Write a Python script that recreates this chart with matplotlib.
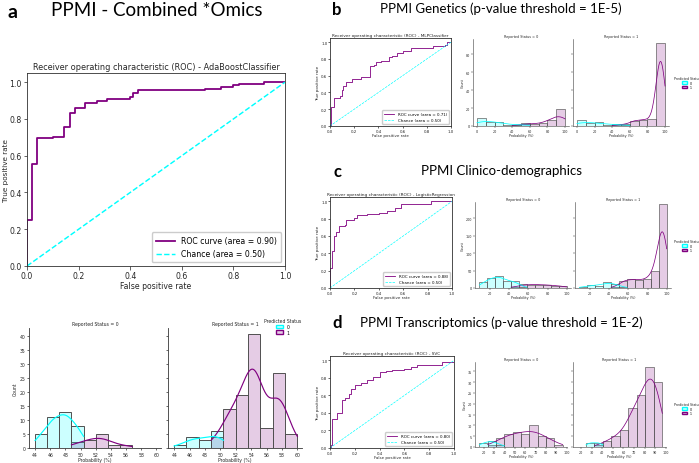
import numpy as np
import matplotlib.pyplot as plt
from matplotlib.patches import Patch
from matplotlib.colors import to_rgba

# ---------------- data ----------------
# ROC curves: (fpr, tpr) corner points, drawn as steps
roc_a_fpr = [0, 0, 0.02, 0.04, 0.10, 0.145, 0.165, 0.185, 0.225, 0.27, 0.29, 0.31, 0.40, 0.41, 0.43, 0.495, 0.69, 0.75, 0.80, 0.82, 0.92, 1.0]
roc_a_tpr = [0, 0.25, 0.555, 0.695, 0.70, 0.755, 0.83, 0.86, 0.885, 0.895, 0.90, 0.91, 0.92, 0.94, 0.955, 0.96, 0.965, 0.975, 0.985, 0.99, 1.0, 1.0]
roc_b_fpr = [0, 0.005, 0.01, 0.03, 0.08, 0.10, 0.11, 0.13, 0.15, 0.18, 0.26, 0.33, 0.36, 0.38, 0.42, 0.47, 0.49, 0.51, 0.55, 0.60, 0.67, 0.85, 0.95, 0.97, 1.0]
roc_b_tpr = [0, 0.02, 0.23, 0.33, 0.36, 0.43, 0.48, 0.52, 0.53, 0.56, 0.59, 0.71, 0.73, 0.76, 0.77, 0.78, 0.82, 0.84, 0.87, 0.90, 0.93, 0.95, 0.97, 1.0, 1.0]
roc_c_fpr = [0, 0.003, 0.02, 0.03, 0.05, 0.07, 0.12, 0.13, 0.20, 0.22, 0.30, 0.40, 0.47, 0.53, 0.58, 0.62, 0.83, 1.0]
roc_c_tpr = [0, 0.23, 0.43, 0.60, 0.65, 0.72, 0.73, 0.78, 0.81, 0.84, 0.85, 0.87, 0.89, 0.92, 0.97, 0.975, 1.0, 1.0]
roc_d_fpr = [0, 0.005, 0.02, 0.06, 0.10, 0.12, 0.15, 0.17, 0.20, 0.25, 0.30, 0.35, 0.40, 0.45, 0.50, 0.60, 0.65, 0.70, 0.90, 1.0]
roc_d_tpr = [0, 0.03, 0.33, 0.40, 0.55, 0.57, 0.62, 0.67, 0.72, 0.74, 0.78, 0.81, 0.87, 0.88, 0.89, 0.90, 0.93, 0.95, 0.98, 1.0]
roc_auc = {"a": 0.90, "b": 0.71, "c": 0.88, "d": 0.80}
roc_models = {"a": "AdaBoostClassifier", "b": "MLPClassifier", "c": "LogisticRegression", "d": "SVC"}

# histograms: bin edges and counts per predicted status (0 / 1)
edges_a = np.linspace(44, 60, 11)
a0_pred0 = [5, 11, 13, 8, 0, 0, 0, 0, 0, 0]
a0_pred1 = [0, 0, 0, 2, 3, 5, 1, 1, 0, 0]
a1_pred0 = [1, 4, 3, 6, 0, 0, 0, 0, 0, 0]
a1_pred1 = [0, 0, 0, 4, 14, 19, 41, 7, 27, 5]

edges_b = np.linspace(0, 100, 11)
b0_pred0 = [9, 4, 5, 1, 1, 2, 0, 0, 0, 0]
b0_pred1 = [0, 0, 0, 0, 1, 3, 2, 3, 7, 19]
b1_pred0 = [7, 3, 4, 1, 2, 1, 0, 0, 0, 0]
b1_pred1 = [0, 0, 0, 0, 1, 2, 6, 7, 8, 92]

edges_c = np.linspace(8.9, 100, 12)
c0_pred0 = [16, 29, 34, 21, 19, 3, 0, 0, 0, 0, 0]
c0_pred1 = [0, 0, 0, 0, 2, 11, 10, 10, 9, 7, 6]
c1_pred0 = [3, 8, 7, 17, 12, 2, 0, 0, 0, 0, 0]
c1_pred1 = [0, 0, 0, 0, 3, 21, 25, 23, 26, 50, 239]

edges_d0 = np.linspace(15.5, 96.1, 11)
d0_pred0 = [2, 3, 1, 0, 0, 0, 0, 0, 0, 0]
d0_pred1 = [0, 1, 4, 6, 7, 6, 10, 5, 4, 1]
edges_d1 = np.linspace(24.5, 96.8, 10)
d1_pred0 = [2, 2, 0, 0, 0, 0, 0, 0, 0]
d1_pred1 = [0, 1, 3, 5, 8, 18, 24, 37, 30]

# ---------------- figure ----------------
W, H = 699, 464
fig = plt.figure(figsize=(W / 100, H / 100), dpi=100)
TXT = "#262626"


def add_ax(l, t, r, b):
    return fig.add_axes([l / W, 1 - b / H, (r - l) / W, (b - t) / H])


def draw_roc(ax, fpr, tpr, key, fs, lw, ylab_x=None, ylab_fs=None):
    ax.plot(fpr, tpr, color="purple", lw=lw, drawstyle="steps-post",
            label="ROC curve (area = %.2f)" % roc_auc[key])
    ax.plot([0, 1], [0, 1], color="cyan", lw=lw * 0.8, ls="--",
            label="Chance (area = 0.50)")
    ax.set_xlim(0, 1)
    ax.set_ylim(0, 1.05)
    ax.set_xticks(np.arange(0, 1.01, 0.2))
    ax.set_yticks(np.arange(0, 1.01, 0.2))
    ax.tick_params(labelsize=fs, length=fs * 0.45, width=0.5, pad=fs * 0.2, colors=TXT)
    ax.set_xlabel("False positive rate", fontsize=fs, labelpad=fs * 0.15, color=TXT)
    ax.set_ylabel("True positive rate", fontsize=ylab_fs or fs, labelpad=fs * 0.15, color=TXT)
    if ylab_x is not None:
        ax.yaxis.set_label_coords(ylab_x, 0.5)
    ax.set_title("Receiver operating characteristic (ROC) - " + roc_models[key],
                 fontsize=fs * 1.05, pad=fs * 0.5, color=TXT)
    for s in ax.spines.values():
        s.set_linewidth(0.6)
        s.set_color("#303030")
    ax.legend(loc="lower right", fontsize=fs, handlelength=2.5, borderpad=0.5,
              fancybox=True, framealpha=1)


def kde(ax, edges, counts, color, lw):
    edges = np.asarray(edges, float)
    width = edges[1] - edges[0]
    centers = edges[:-1] + width / 2
    w = np.asarray(counts, float)
    m = w > 0
    c, w = centers[m], w[m]
    n = w.sum()
    mean = (c * w).sum() / n
    sd = np.sqrt(((c - mean) ** 2 * w).sum() / n)
    bw = 1.3 * sd * n ** (-0.2)
    xs = np.linspace(c.min() - width / 2, c.max() + width / 2, 200)
    dens = (w[None, :] * np.exp(-0.5 * ((xs[:, None] - c[None, :]) / bw) ** 2)).sum(1)
    dens /= n * bw * np.sqrt(2 * np.pi)
    ax.plot(xs, dens * n * width, color=color, lw=lw)


def draw_hist(ax, edges, pred0, pred1, title, fs, lw, xlim, ylim, xticks, yticks, left):
    edges = np.asarray(edges)
    width = edges[1] - edges[0]
    for counts, col in [(pred1, "purple"), (pred0, "cyan")]:
        ax.bar(edges[:-1], counts, width=width, align="edge",
               facecolor=to_rgba(col, 0.2), edgecolor="#505050", lw=lw)
    for counts, col in [(pred1, "purple"), (pred0, "cyan")]:
        kde(ax, edges, counts, col, lw * 1.2)
    ax.set_xlim(*xlim)
    ax.set_ylim(*ylim)
    ax.set_xticks(xticks)
    ax.set_yticks(yticks)
    ax.spines["top"].set_visible(False)
    ax.spines["right"].set_visible(False)
    for s in ax.spines.values():
        s.set_linewidth(lw * 0.9)
        s.set_color("#404040")
    ax.tick_params(labelsize=fs, length=fs * 0.5, width=lw * 0.7, pad=fs * 0.3, colors=TXT)
    ax.set_title(title, fontsize=fs, pad=fs * 0.6, color=TXT)
    ax.set_xlabel("Probability (%)", fontsize=fs, labelpad=0.5, color=TXT)
    if left:
        ax.set_ylabel("Count", fontsize=fs, labelpad=fs * 0.3, color=TXT)
    else:
        ax.tick_params(labelleft=False)


def hist_legend(x, y, fs):
    handles = [Patch(facecolor=to_rgba("cyan", 0.2), edgecolor="cyan"),
               Patch(facecolor=to_rgba("purple", 0.2), edgecolor="purple")]
    leg = fig.legend(handles, ["0", "1"], title="Predicted Status", loc="upper left",
                     bbox_to_anchor=(x / W, 1 - y / H), frameon=False, fontsize=fs,
                     title_fontsize=fs, handlelength=1.6, handleheight=0.8,
                     borderaxespad=0, borderpad=0, labelspacing=0.2)
    leg.get_title().set_color(TXT)


# ---------------- panel a ----------------
fig.text(13 / W, 1 - 13 / H, "a", fontsize=14, fontweight="bold", family="Lato",
         ha="center", va="center")
fig.text(157 / W, 1 - 11 / H, "PPMI - Combined *Omics", fontsize=13.5, family="Lato",
         ha="center", va="center")
ax = add_ax(27, 74, 285, 267)
draw_roc(ax, roc_a_fpr, roc_a_tpr, "a", 5.6, 1.3, ylab_x=(9.4 - 27) / 258, ylab_fs=5.2)

ha = add_ax(29, 329, 161, 449)
draw_hist(ha, edges_a, a0_pred0, a0_pred1, "Reported Status = 0", 3.3, 0.7,
          (43.2, 60.6), (0, 43), np.arange(44, 61, 2), np.arange(0, 41, 5), True)
ha = add_ax(168, 329, 302, 449)
draw_hist(ha, edges_a, a1_pred0, a1_pred1, "Reported Status = 1", 3.3, 0.7,
          (43.2, 60.6), (0, 43), np.arange(44, 61, 2), np.arange(0, 41, 5), False)
hist_legend(264, 319, 3.3)

# ---------------- panels b, c, d ----------------
panels = [
    ("b", "PPMI Genetics (p-value threshold = 1E-5)", 10, 9, roc_b_fpr, roc_b_tpr,
     (330, 39, 451, 127), (473, 40, 569, 127), (573, 40, 669, 127),
     edges_b, b0_pred0, b0_pred1, edges_b, b1_pred0, b1_pred1,
     (-4.5, 104.5), (-4.5, 104.5), (0, 97), np.arange(0, 101, 20), np.arange(0, 81, 20), 77),
    ("c", "PPMI Clinico-demographics", 172, 171, roc_c_fpr, roc_c_tpr,
     (330, 198, 452, 289), (475, 203, 571, 289), (575, 203, 671, 289),
     edges_c, c0_pred0, c0_pred1, edges_c, c1_pred0, c1_pred1,
     (4.3, 104.5), (4.3, 104.5), (0, 246), np.arange(20, 101, 20), np.arange(0, 201, 50), 240),
    ("d", "PPMI Transcriptomics (p-value threshold = 1E-2)", 323, 323, roc_d_fpr, roc_d_tpr,
     (330, 357, 454, 449), (475, 363, 567, 448), (573, 363, 666, 448),
     edges_d0, d0_pred0, d0_pred1, edges_d1, d1_pred0, d1_pred1,
     (11.3, 100.3), (12.2, 100.3), (0, 39.3), np.arange(20, 101, 10), np.arange(0, 36, 5), 403),
]

for (key, title, ly, ty, fpr, tpr, rbox, h0box, h1box, e0, p00, p01, e1, p10, p11,
     xl0, xl1, yl, xt, yt, legy) in panels:
    fig.text(337 / W, 1 - ly / H, key, fontsize=12, fontweight="bold", family="Lato",
             ha="center", va="center")
    fig.text(501 / W, 1 - ty / H, title, fontsize=9.5, family="Lato",
             ha="center", va="center")
    ax = add_ax(*rbox)
    draw_roc(ax, fpr, tpr, key, 2.9, 0.6)
    h0 = add_ax(*h0box)
    draw_hist(h0, e0, p00, p01, "Reported Status = 0", 2.4, 0.45, xl0, yl, xt, yt, True)
    h1 = add_ax(*h1box)
    draw_hist(h1, e1, p10, p11, "Reported Status = 1", 2.4, 0.45, xl1, yl, xt, yt, False)
    hist_legend(674, legy, 2.3)

fig.savefig("out.png", dpi=100)
